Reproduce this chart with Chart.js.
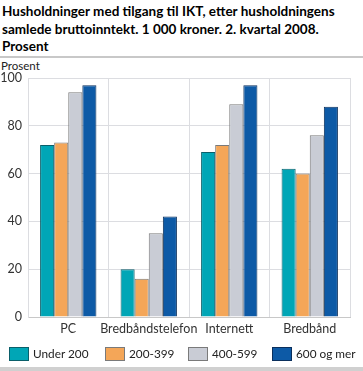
<!DOCTYPE html>
<html>
<head>
<meta charset="utf-8">
<script src="https://cdn.jsdelivr.net/npm/chart.js@4"></script>
<style>
  html, body { margin: 0; padding: 0; background: #fff; }
  body { width: 363px; height: 371px; position: relative; overflow: hidden; font-family: Lato, "Open Sans", sans-serif; }
  #title { position: absolute; left: 2px; top: 3px; width: 361px; font-weight: bold; font-size: 13.5px; line-height: 17.5px; color: #000; }
  #rule { position: absolute; left: 0; top: 56px; width: 363px; height: 2px; background: #c8c8c8; }
  #foot { position: absolute; left: 0; top: 367px; width: 363px; height: 4px; background: #d0d0d0; }
  #unit { position: absolute; left: 1px; top: 59px; font-size: 11.5px; color: #222; }
  #wrap { position: absolute; left: 0; top: 0; width: 363px; height: 371px; }
  #legend { position: absolute; left: 0; top: 347px; height: 14px; font-size: 11.8px; color: #222; }
  #legend span.it { position: absolute; top: 0; white-space: nowrap; line-height: 14px; }
  #legend i { display: inline-block; width: 18px; height: 12px; vertical-align: top; margin-right: 4px; border: 1px solid; }
</style>
</head>
<body>
<div id="title">Husholdninger med tilgang til IKT, etter husholdningens samlede bruttoinntekt. 1 000 kroner. 2. kvartal 2008. Prosent</div>
<div id="rule"></div>
<div id="unit">Prosent</div>
<div id="wrap"><canvas id="c" width="363" height="371"></canvas></div>
<div id="legend"></div>
<div id="foot"></div>
<script>
// categories and series (percent)
const categories = ["PC", "Bredbåndstelefon", "Internett", "Bredbånd"];
const seriesNames = ["Under 200", "200-399", "400-599", "600 og mer"];
const under200 = [72, 20, 69, 62];
const from200 = [73, 16, 72, 60];
const from400 = [94, 35, 89, 76];
const over600 = [97, 42, 97, 88];
const yTicks = [0, 20, 40, 60, 80, 100];

const fills = ["#00a6b6", "#f4a658", "#c9ccd5", "#0d5aa6"];
const edges = ["#0a5f6a", "#7a7a7a", "#7a7a7a", "#0a2f5c"];
const legendX = [9, 105, 188, 272];
const FONT = "Lato, 'Open Sans', sans-serif";

const values = [under200, from200, from400, over600];
const datasets = values.map((v, i) => ({
  label: seriesNames[i],
  data: v,
  backgroundColor: fills[i],
  borderColor: edges[i],
  borderWidth: 1,
  categoryPercentage: 0.7,
  barPercentage: 1.0
}));

const chart = new Chart(document.getElementById("c"), {
  type: "bar",
  data: { labels: categories, datasets },
  options: {
    responsive: false,
    animation: false,
    layout: { padding: { top: 78, right: 13, left: 0, bottom: 31 } },
    plugins: {
      legend: { display: false },
      tooltip: { enabled: false }
    },
    scales: {
      x: {
        grid: { color: "#dcdde1", offset: true, drawTicks: false },
        border: { color: "#c8c8c8" },
        ticks: { color: "#333", padding: 4, autoSkip: false, maxRotation: 0, font: { family: FONT, size: 12.5 } }
      },
      y: {
        min: 0, max: 100,
        afterBuildTicks: (s) => { s.ticks = yTicks.map(v => ({ value: v })); },
        afterFit: (s) => { s.width = 28; },
        grid: { color: "#dcdde1", drawTicks: false },
        border: { color: "#dcdde1" },
        ticks: { color: "#333", padding: 6, font: { family: FONT, size: 12.5 } }
      }
    }
  }
});

// legend from the chart's datasets
const lg = document.getElementById("legend");
chart.data.datasets.forEach((d, i) => {
  const s = document.createElement("span");
  s.className = "it";
  s.style.left = legendX[i] + "px";
  s.innerHTML = `<i style="background:${d.backgroundColor};border-color:${d.borderColor}"></i>${d.label}`;
  lg.appendChild(s);
});
</script>
</body>
</html>
